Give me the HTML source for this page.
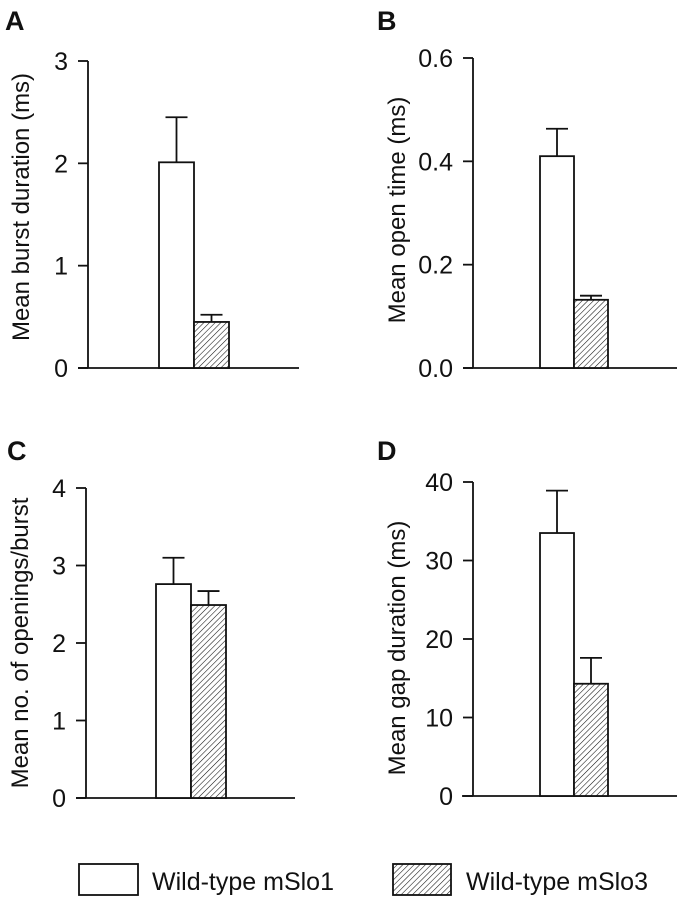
<!DOCTYPE html>
<html><head><meta charset="utf-8"><style>
body{margin:0;background:#fff}
svg{display:block;font-family:"Liberation Sans",Arial,sans-serif}
</style></head><body>
<svg id="fig" width="683" height="899" viewBox="0 0 683 899">
<defs>
<pattern id="hatch" patternUnits="userSpaceOnUse" width="4" height="4" patternTransform="rotate(45)">
<rect width="4" height="4" fill="#fff"/><line x1="0" y1="0" x2="0" y2="4" stroke="#111" stroke-width="1.1"/>
</pattern>
</defs>
<g id="panels"></g>
<g>
<rect x="79" y="864" width="59" height="31" fill="#fff" stroke="#111" stroke-width="1.8"/>
<text x="152" y="890" font-size="25" fill="#111">Wild-type mSlo1</text>
<rect x="393" y="864" width="58" height="31" fill="url(#hatch)" stroke="#111" stroke-width="1.8"/>
<text x="466" y="890" font-size="25" fill="#111">Wild-type mSlo3</text>
</g>
</svg>
<script>
const panelLetters = ["A","B","C","D"];
const yTitles = ["Mean burst duration (ms)","Mean open time (ms)","Mean no. of openings/burst","Mean gap duration (ms)"];
const tickLabelsA = ["0","1","2","3"];
const tickLabelsB = ["0.0","0.2","0.4","0.6"];
const tickLabelsC = ["0","1","2","3","4"];
const tickLabelsD = ["0","10","20","30","40"];
const yMaxes = [3, 0.6, 4, 40];
const mSlo1Means = [2.01, 0.41, 2.76, 33.5];
const mSlo1Errors = [0.44, 0.053, 0.34, 5.4];
const mSlo3Means = [0.45, 0.132, 2.49, 14.3];
const mSlo3Errors = [0.07, 0.008, 0.18, 3.3];

const layouts = [
 {ax:88, top:61, zero:368, bx0:78, bx1:299, b1:159, bw:35, lx:5, ly:30, tx:21, ty:207},
 {ax:473, top:58, zero:368, bx0:463, bx1:677, b1:540, bw:34, lx:377, ly:30, tx:397, ty:210},
 {ax:86, top:488, zero:798, bx0:76, bx1:295, b1:156, bw:35, lx:7, ly:460, tx:20, ty:643},
 {ax:473, top:482, zero:796, bx0:462, bx1:677, b1:540, bw:34, lx:377, ly:460, tx:397, ty:648}
];
const tickSets = [tickLabelsA, tickLabelsB, tickLabelsC, tickLabelsD];
const NS = "http://www.w3.org/2000/svg";
const root = document.getElementById("panels");
function mk(tag, attrs, parent){const e=document.createElementNS(NS,tag);for(const k in attrs)e.setAttribute(k,attrs[k]);parent.appendChild(e);return e;}

layouts.forEach((L,i)=>{
  const g = mk("g",{},root);
  
  
  const y = v => L.zero - v / yMaxes[i] * (L.zero - L.top);
  const lt = mk("text",{x:L.lx,y:L.ly,"font-size":"27","font-weight":"bold",fill:"#111"},g);
  lt.textContent = panelLetters[i];
  
  
  const ya = mk("line",{x1:L.ax,y1:L.top,x2:L.ax,y2:L.zero,stroke:"#111","stroke-width":"1.8"},g);
  
  
  const xa = mk("line",{x1:L.bx0,y1:L.zero,x2:L.bx1,y2:L.zero,stroke:"#111","stroke-width":"1.8"},g);
  
  
  const ticks = tickSets[i];
  ticks.forEach((t,k)=>{
    const v = yMaxes[i] * k / (ticks.length-1);
    const ty = y(v);
    const tl = mk("line",{x1:L.ax-10,y1:ty,x2:L.ax,y2:ty,stroke:"#111","stroke-width":"1.8"},g);
    
    
    const tx = mk("text",{x:L.ax-20,y:ty+9,"font-size":"25","text-anchor":"end",fill:"#111"},g);
    tx.textContent = t;
    
    
  });
  const tt = mk("text",{x:0,y:0,"font-size":"24","text-anchor":"middle",fill:"#111",transform:`translate(${L.tx+8},${L.ty}) rotate(-90)`},g);
  tt.textContent = yTitles[i];
  
  
  const series = [[mSlo1Means[i], mSlo1Errors[i], "#fff", "bar-mslo1"],[mSlo3Means[i], mSlo3Errors[i], "url(#hatch)", "bar-mslo3"]];
  series.forEach((s,j)=>{
    const x0 = L.b1 + j*L.bw;
    const cx = x0 + L.bw/2;
    const el = mk("line",{x1:cx,y1:y(s[0]),x2:cx,y2:y(s[0]+s[1]),stroke:"#111","stroke-width":"1.8"},g);
    
    
    const cap = mk("line",{x1:cx-11,y1:y(s[0]+s[1]),x2:cx+11,y2:y(s[0]+s[1]),stroke:"#111","stroke-width":"1.8"},g);
    
    
    const r = mk("rect",{x:x0,y:y(s[0]),width:L.bw,height:L.zero-y(s[0]),fill:s[2],stroke:"#111","stroke-width":"1.8"},g);
    
    
  });
});
</script>
</body></html>
